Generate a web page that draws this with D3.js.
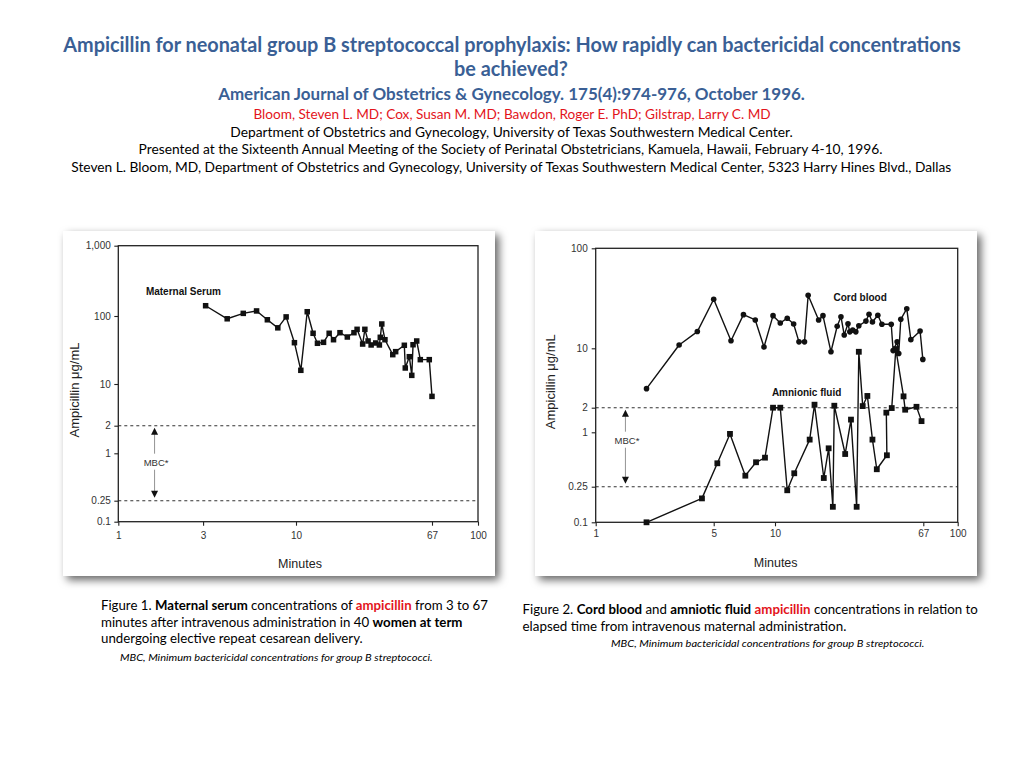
<!DOCTYPE html>
<html><head><meta charset="utf-8">
<script src="https://cdn.jsdelivr.net/npm/d3@7"></script>
<style>body{margin:0;background:#fff}svg{display:block}</style>
</head><body>
<svg id="c" width="1024" height="768"></svg>
<script>
// ---------- DATA ----------
const serumMinutes = [3.1,4.1,5.05,6.0,6.9,7.9,8.8,9.8,10.7,11.7,12.7,13.5,14.7,15.9,16.9,18.5,20.5,22.5,23.5,25.4,26.2,27.4,28.6,30.5,32.1,32.5,33.2,34.7,38.7,40.3,45.5,46.1,48.8,50.5,51.4,54.1,56.9,64.5,67];
const serumValues  = [140,91,109,118,88,67,97,40.5,15.9,115,55.7,39.7,41,55.7,44.8,56.8,49.1,56.8,63.7,38.7,63.7,42.9,37.5,40.1,37.5,48.6,76.3,44.8,27,29.9,37.1,17.2,25.2,13.4,37.8,42.9,22.8,22.8,6.2];

const cordMinutes = [2.0,3.12,4.0,5.0,6.08,7.0,8.0,8.83,9.78,10.7,11.7,12.7,13.6,14.6,15.3,17.5,18.5,20.5,22.2,23.3,24.3,25.5,26.1,27.1,28.2,29.3,32.1,33.4,34.9,37.4,39.4,44.4,45.5,47.9,48.9,50.2,54.2,57.1,64.3,66.6];
const cordValues  = [3.35,10.8,14.7,30.9,11.9,21.7,19.2,10.3,21.2,17.9,20,17.5,11.6,11.6,33.9,19.2,21.2,9.1,16.6,20.7,13.6,17.6,14.6,15.2,14.6,16.8,18.7,21.9,18.3,21.4,17.4,17.4,9.4,11.6,8.7,19.5,24.9,12.2,14.9,7.4];

const fluidMinutes = [2.0,4.26,5.21,6.01,7.15,8.07,8.93,9.78,10.7,11.7,12.8,15.6,16.6,18.7,19.9,21.0,21.4,24.6,26.5,28.5,29.3,30.8,32.7,34.9,36.9,42.0,41.7,44.7,47.1,52.0,53.1,61.4,65.5];
const fluidValues  = [0.1,0.185,0.454,0.96,0.331,0.466,0.524,2.0,2.0,0.228,0.352,0.83,2.17,0.312,0.665,0.149,2.11,0.575,1.43,0.149,9.1,2.09,2.75,0.83,0.39,0.557,1.74,1.98,9.8,2.72,1.89,2.05,1.37];

const leftXTicks  = [1,3,10,67,100];
const leftYTicks  = [0.1,0.25,1,2,10,100,1000];
const leftYLabels = ["0.1","0.25","1","2","10","100","1,000"];
const rightXTicks = [1,5,10,67,100];
const rightYTicks = [0.1,0.25,1,2,10,100];
const rightYLabels= ["0.1","0.25","1","2","10","100"];
const mbcLow = 0.25, mbcHigh = 2;

// ---------- SETUP ----------
const svg = d3.select("#c");
const defs = svg.append("defs");
const f = defs.append("filter").attr("id","sh").attr("x","-10%").attr("y","-10%").attr("width","125%").attr("height","125%");
f.append("feDropShadow").attr("dx",4).attr("dy",4).attr("stdDeviation",4).attr("flood-color","#000").attr("flood-opacity",0.6);

const SANS = "Lato, 'Open Sans', sans-serif";
const HELV = "'Liberation Sans', Arial, sans-serif";
const BLUE = "#3a5f95", RED = "#e3141b";

// text line helper: parts = [[text, bold, red]]
function line(x, y, anchor, width, size, parts, opts={}) {
  const t = svg.append("text")
    .attr("text-anchor", anchor)
    .attr("font-family", SANS)
    .attr("font-size", size)
    .attr("fill", opts.fill || "#000")
    .attr("font-weight", opts.bold ? "bold" : "normal")
    .attr("font-style", opts.italic ? "italic" : "normal");
  parts.forEach(p => {
    const s = t.append("tspan").text(p[0]);
    if (p[1]) s.attr("font-weight","bold");
    if (p[2]) s.attr("fill", RED);
  });
  const w = t.node().getComputedTextLength();
  const sx = width ? width / w : 1;
  t.attr("transform", `translate(${x},${y}) scale(${sx},1)`);
  return t;
}

// ---------- HEADER ----------
line(512, 52, "middle", 898, 20, [["Ampicillin for neonatal group B streptococcal prophylaxis: How rapidly can bactericidal concentrations"]], {bold:true, fill:BLUE});
line(511, 76, "middle", 114, 20, [["be achieved?"]], {bold:true, fill:BLUE});
line(511.5, 100, "middle", 587, 17, [["American Journal of Obstetrics & Gynecology. 175(4):974-976, October 1996."]], {bold:true, fill:BLUE});
line(512, 119, "middle", 518, 14, [["Bloom, Steven L. MD; Cox, Susan M. MD; Bawdon, Roger E. PhD; Gilstrap, Larry C. MD"]], {fill:RED});
line(511.5, 136.7, "middle", 563, 14, [["Department of Obstetrics and Gynecology, University of Texas Southwestern Medical Center."]]);
line(510.5, 154.3, "middle", 745, 14, [["Presented at the Sixteenth Annual Meeting of the Society of Perinatal Obstetricians, Kamuela, Hawaii, February 4-10, 1996."]]);
line(511.3, 171.7, "middle", 881, 14, [["Steven L. Bloom, MD, Department of Obstetrics and Gynecology, University of Texas Southwestern Medical Center, 5323 Harry Hines Blvd., Dallas"]]);

// ---------- CAPTIONS ----------
line(101, 610, "start", 387, 13.5, [["Figure 1. "],["Maternal serum",1],[" concentrations of "],["ampicillin",1,1],[" from 3 to 67"]]);
line(101, 626.7, "start", 362, 13.5, [["minutes after intravenous administration in 40 "],["women at term",1]]);
line(101, 643.3, "start", 262, 13.5, [["undergoing elective repeat cesarean delivery."]]);
line(120, 661, "start", 313, 10, [["MBC, Minimum bactericidal concentrations for group B streptococci."]], {italic:true});

line(522.5, 614.3, "start", 456, 13.5, [["Figure 2. "],["Cord blood",1],[" and "],["amniotic fluid",1],[" "],["ampicillin",1,1],[" concentrations in relation to"]]);
line(522.5, 631, "start", 324, 13.5, [["elapsed time from intravenous maternal administration."]]);
line(611, 646.7, "start", 314, 10, [["MBC, Minimum bactericidal concentrations for group B streptococci."]], {italic:true});

// ---------- PANELS ----------
svg.append("rect").attr("x",63).attr("y",231).attr("width",432).attr("height",345).attr("fill","#fff").attr("filter","url(#sh)");
svg.append("rect").attr("x",535).attr("y",231).attr("width",442).attr("height",345).attr("fill","#fff").attr("filter","url(#sh)");

function panel(cfg) {
  const g = svg.append("g");
  const x = cfg.x, y = cfg.y;
  const [x0,x1] = d3.extent(x.range());
  const [y1,y0] = [d3.max(y.range()), d3.min(y.range())];
  [mbcHigh, mbcLow].forEach(v => {
    g.append("line").attr("x1",x0).attr("x2",x1).attr("y1",y(v)).attr("y2",y(v))
      .attr("stroke","#333").attr("stroke-width",1.1).attr("stroke-dasharray","3,3");
  });
  g.append("rect").attr("x",x0).attr("y",y0).attr("width",x1-x0).attr("height",y1-y0)
    .attr("fill","none").attr("stroke","#222").attr("stroke-width",1.3);
  const ax = g.append("g").attr("transform",`translate(0,${y1})`)
    .call(d3.axisBottom(x).tickValues(cfg.xTicks).tickFormat(d=>String(d)).tickSize(4).tickPadding(cfg.xPad));
  const ay = g.append("g").attr("transform",`translate(${x0},0)`)
    .call(d3.axisLeft(y).tickValues(cfg.yTicks).tickFormat((d,i)=>cfg.yLabels[i]).tickSize(4).tickPadding(cfg.yPad));
  [ax,ay].forEach(a => {
    a.select(".domain").remove();
    a.selectAll("line").attr("stroke","#222").attr("stroke-width",1.1);
    a.selectAll("text").attr("font-family",HELV).attr("font-size",10).attr("fill","#333");
  });
  g.append("text").attr("x",cfg.xTitle[0]).attr("y",cfg.xTitle[1]).attr("text-anchor","middle")
    .attr("font-family",HELV).attr("font-size",12.5).attr("fill","#222").text("Minutes");
  g.append("text").attr("transform",`translate(${cfg.yTitle[0]},${cfg.yTitle[1]}) rotate(-90)`)
    .attr("text-anchor","middle").attr("font-family",HELV).attr("font-size",13).attr("fill","#222").text("Ampicillin μg/mL");
  const mx = x(cfg.mbcX), ya = y(mbcHigh)+2, yb = y(mbcLow)-3, ym = (ya+yb)/2 + cfg.mbcDy;
  g.append("line").attr("x1",mx).attr("x2",mx).attr("y1",ya+6).attr("y2",ym-9).attr("stroke","#777").attr("stroke-width",0.8);
  g.append("line").attr("x1",mx).attr("x2",mx).attr("y1",ym+7).attr("y2",yb-6).attr("stroke","#777").attr("stroke-width",0.8);
  g.append("path").attr("d",`M${mx},${ya} l-3.5,7 l7,0 z`).attr("fill","#111");
  g.append("path").attr("d",`M${mx},${yb} l-3.5,-7 l7,0 z`).attr("fill","#111");
  g.append("text").attr("x",mx+1.5).attr("y",ym+3.5).attr("text-anchor","middle")
    .attr("font-family",HELV).attr("font-size",9.5).attr("fill","#333").text("MBC*");
  return g;
}

const xL = d3.scaleLog().domain([1,10,67,100]).range([118.3,296,432,478]);
const yL = d3.scaleLog().domain([0.1,0.25,1,2,10,100,1000]).range([521.7,500.7,453.3,425.7,384,316,245.7]);
const gL = panel({x:xL, y:yL, xTicks:leftXTicks, yTicks:leftYTicks, yLabels:leftYLabels, xPad:6, yPad:3.5,
  xTitle:[300,568], yTitle:[79,390], mbcX:1.6, mbcDy:0});

const xR = d3.scaleLog().domain([1,5,10,67,100]).range([595.7,713.7,775,923.3,957.7]);
const yR = d3.scaleLog().domain([0.1,0.25,1,2,10,100]).range([522.3,486.7,432.3,407.7,348.3,248.3]);
const gR = panel({x:xR, y:yR, xTicks:rightXTicks, yTicks:rightYTicks, yLabels:rightYLabels, xPad:4, yPad:4,
  xTitle:[775.7,567], yTitle:[555,381.7], mbcX:1.5, mbcDy:-6});

// ---------- SERIES ----------
function series(g, x, y, xs, vs, shape, size) {
  const pts = xs.map((m,i)=>[x(m), y(vs[i])]);
  g.append("path").attr("d", d3.line()(pts)).attr("fill","none").attr("stroke","#111").attr("stroke-width",1.4).attr("stroke-linejoin","round");
  if (shape === "square") {
    g.selectAll(null).data(pts).enter().append("rect")
      .attr("x",d=>d[0]-size/2).attr("y",d=>d[1]-size/2).attr("width",size).attr("height",size).attr("fill","#111");
  } else {
    g.selectAll(null).data(pts).enter().append("circle")
      .attr("cx",d=>d[0]).attr("cy",d=>d[1]).attr("r",size/2).attr("fill","#111");
  }
}
series(gL, xL, yL, serumMinutes, serumValues, "square", 5.5);
series(gR, xR, yR, cordMinutes, cordValues, "circle", 5.6);
series(gR, xR, yR, fluidMinutes, fluidValues, "square", 5.8);

gL.append("text").attr("x",xL(1.43)).attr("y",yL(200)).attr("font-family",HELV).attr("font-weight","bold")
  .attr("font-size",10).attr("fill","#111").text("Maternal Serum");
gR.append("text").attr("x",xR(29.8)).attr("y",yR(29.9)).attr("text-anchor","middle").attr("font-family",HELV).attr("font-weight","bold")
  .attr("font-size",10).attr("fill","#111").text("Cord blood");
gR.append("text").attr("x",xR(15)).attr("y",yR(2.75)).attr("text-anchor","middle").attr("font-family",HELV).attr("font-weight","bold")
  .attr("font-size",10).attr("fill","#111").text("Amnionic fluid");
</script>
</body></html>
